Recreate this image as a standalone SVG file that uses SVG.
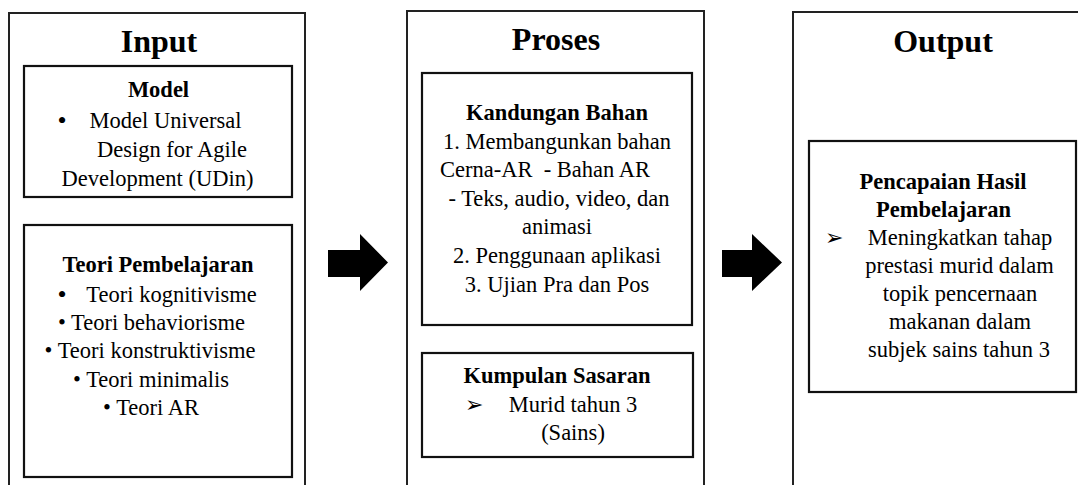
<svg xmlns="http://www.w3.org/2000/svg" width="1078" height="485" viewBox="0 0 1078 485">
<style>
  .box { fill: #fff; stroke: #222; stroke-width: 2; }
  .inner { fill: #fff; stroke: #111; stroke-width: 2.2; }
  .title { font-family: "Liberation Serif", "Times New Roman", serif; font-weight: bold; font-size: 32px; fill: #000; text-anchor: middle; }
  .sub { font-family: "Liberation Serif", "Times New Roman", serif; font-weight: bold; font-size: 22.5px; fill: #000; text-anchor: middle; }
  .t { font-family: "Liberation Serif", "Times New Roman", serif; font-size: 22.5px; fill: #000; text-anchor: middle; }
  .ts { font-family: "Liberation Serif", "Times New Roman", serif; font-size: 22.5px; fill: #000; }
  .big { font-family: "Liberation Serif", "Times New Roman", serif; font-size: 26px; fill: #000; text-anchor: middle; }
  .arr { font-family: "DejaVu Sans", sans-serif; font-size: 22px; fill: #000; }
  .blk { fill: #000; }
</style>

<g id="input">
  <rect class="box" x="9" y="13" width="296" height="490"/>
  <text class="title" x="159" y="52">Input</text>
</g>
<g id="model">
  <rect class="inner" x="24" y="66" width="268" height="131"/>
  <text class="sub" x="158.5" y="97">Model</text>
  <text class="big" x="62" y="129">•</text>
  <text class="t" x="165.5" y="128">Model Universal</text>
  <text class="t" x="172" y="157">Design for Agile</text>
  <text class="t" x="157.5" y="186">Development (UDin)</text>
</g>
<g id="teori">
  <rect class="inner" x="24" y="225" width="268" height="252"/>
  <text class="sub" x="158" y="272">Teori Pembelajaran</text>
  <text class="big" x="62" y="303">•</text>
  <text class="t" x="171.5" y="302">Teori kognitivisme</text>
  <text class="t" x="151.5" y="330">• Teori behaviorisme</text>
  <text class="t" x="150" y="358">• Teori konstruktivisme</text>
  <text class="t" x="151" y="387">• Teori minimalis</text>
  <text class="t" x="151" y="415">• Teori AR</text>
</g>

<g id="proses">
  <rect class="box" x="407" y="11" width="297" height="490"/>
  <text class="title" x="556" y="50">Proses</text>
</g>
<g id="kandungan">
  <rect class="inner" x="422" y="73" width="270" height="252"/>
  <text class="sub" x="557" y="120">Kandungan Bahan</text>
  <text class="t" x="557" y="149">1. Membangunkan bahan</text>
  <text class="ts" x="440" y="177" xml:space="preserve">Cerna-AR  - Bahan AR</text>
  <text class="t" x="559" y="206">- Teks, audio, video, dan</text>
  <text class="t" x="557" y="234">animasi</text>
  <text class="t" x="557" y="263">2. Penggunaan aplikasi</text>
  <text class="t" x="557" y="292">3. Ujian Pra dan Pos</text>
</g>
<g id="kumpulan">
  <rect class="inner" x="422" y="353" width="271" height="104"/>
  <text class="sub" x="557" y="383">Kumpulan Sasaran</text>
  <text class="arr" x="465" y="412">➢</text>
  <text class="t" x="573" y="412">Murid tahun 3</text>
  <text class="t" x="573" y="440">(Sains)</text>
</g>

<g id="output">
  <rect class="box" x="793" y="12" width="300" height="490"/>
  <text class="title" x="943" y="52">Output</text>
</g>
<g id="pencapaian">
  <rect class="inner" x="809" y="141" width="267" height="251"/>
  <text class="sub" x="943" y="189">Pencapaian Hasil</text>
  <text class="sub" x="943.5" y="217">Pembelajaran</text>
  <text class="arr" x="825" y="245">➢</text>
  <text class="t" x="960" y="245">Meningkatkan tahap</text>
  <text class="t" x="959.5" y="273">prestasi murid dalam</text>
  <text class="t" x="960" y="301">topik pencernaan</text>
  <text class="t" x="960" y="329">makanan dalam</text>
  <text class="t" x="959" y="357">subjek sains tahun 3</text>
</g>

<g id="connectors">
  <polygon class="blk" points="328,250 360,250 360,234 388,262.5 360,291 360,277 328,277"/>
  <polygon class="blk" points="722,250 752,250 752,234 782,262.5 752,291 752,277 722,277"/>
</g>
</svg>
